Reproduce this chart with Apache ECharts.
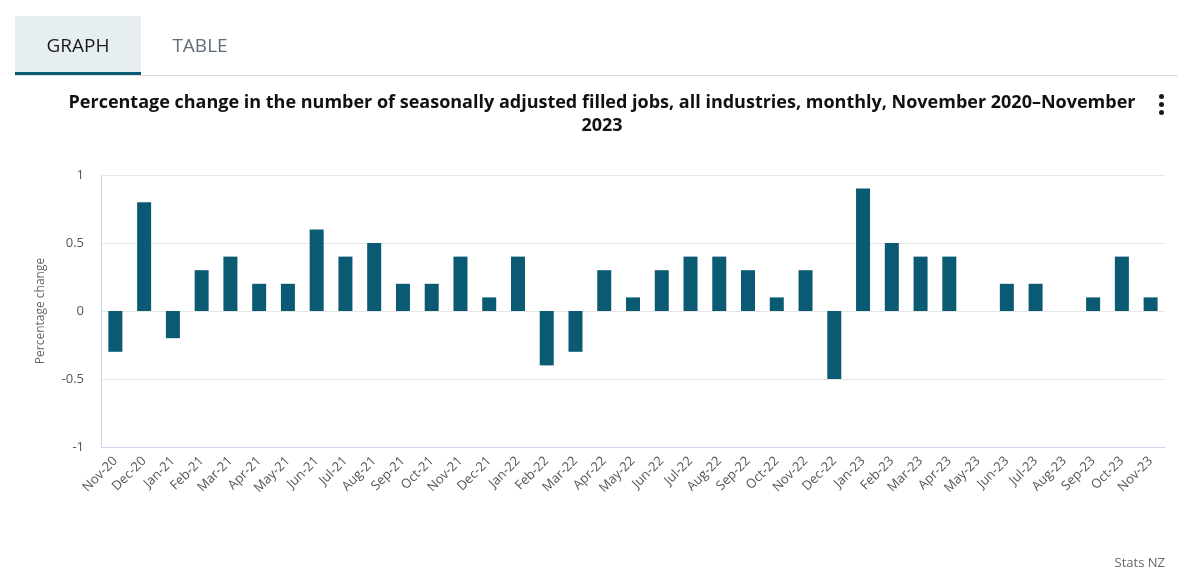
<!DOCTYPE html>
<html>
<head>
<meta charset="utf-8">
<script src="https://cdn.jsdelivr.net/npm/echarts@6/dist/echarts.min.js"></script>
<style>
html,body{margin:0;padding:0;background:#fff;width:1194px;height:581px;overflow:hidden;font-family:"Open Sans",Lato,sans-serif;}
#chart{position:absolute;left:0;top:0;width:1194px;height:581px;}
.tabs{position:absolute;left:15px;top:16px;width:1163px;height:59px;border-bottom:1px solid #dcdcdc;z-index:2;}
.tab{position:absolute;top:0;height:57px;line-height:58px;font-size:19px;text-align:center;}
.tab.active{left:0;width:126px;background:#e6eef1;color:#1a1a1a;border-bottom:3px solid #0b5a73;height:56px;}
.tab.other{left:140px;width:90px;color:#5f6b78;}
.dots{position:absolute;left:1159px;top:94px;width:6px;z-index:2;}
.dots span{display:block;width:5px;height:5px;border-radius:50%;background:#1a1a1a;margin-bottom:3px;}
</style>
</head>
<body>
<div id="chart"></div>
<div class="tabs"><div class="tab active">GRAPH</div><div class="tab other">TABLE</div></div>
<div class="dots"><span></span><span></span><span></span></div>
<script>
var categories = ["Nov-20","Dec-20","Jan-21","Feb-21","Mar-21","Apr-21","May-21","Jun-21","Jul-21","Aug-21","Sep-21","Oct-21","Nov-21","Dec-21","Jan-22","Feb-22","Mar-22","Apr-22","May-22","Jun-22","Jul-22","Aug-22","Sep-22","Oct-22","Nov-22","Dec-22","Jan-23","Feb-23","Mar-23","Apr-23","May-23","Jun-23","Jul-23","Aug-23","Sep-23","Oct-23","Nov-23"];
var values = [-0.3,0.8,-0.2,0.3,0.4,0.2,0.2,0.6,0.4,0.5,0.2,0.2,0.4,0.1,0.4,-0.4,-0.3,0.3,0.1,0.3,0.4,0.4,0.3,0.1,0.3,-0.5,0.9,0.5,0.4,0.4,0,0.2,0.2,0,0.1,0.4,0.1];
var titleText = "Percentage change in the number of seasonally adjusted filled jobs, all industries, monthly, November 2020\u2013November\n2023";
var yAxisTitle = "Percentage change";
var creditText = "Stats NZ";

var chart = echarts.init(document.getElementById('chart'), null, {renderer:'canvas'});
var font = '"Open Sans", Lato, sans-serif';
chart.setOption({
  animation:false,
  textStyle:{fontFamily:font},
  title:{
    text:titleText,
    left:597, top:86, textAlign:'center',
    textStyle:{fontSize:18, fontWeight:'bold', color:'#111', lineHeight:23, fontFamily:font}
  },
  graphic:[{
    type:'text', right:29, top:557,
    style:{text:creditText, fill:'#666', fontSize:13, fontFamily:font}
  }],
  grid:{left:101, right:29, top:175, bottom:134, containLabel:false},
  xAxis:{
    type:'category', data:categories, boundaryGap:true,
    axisLine:{onZero:false, lineStyle:{color:'#ccd6eb', width:1}},
    axisTick:{alignWithLabel:true, length:10, lineStyle:{color:'#ccd6eb'}},
    axisLabel:{rotate:45, color:'#555', fontSize:13, margin:12, interval:0, fontFamily:font}
  },
  yAxis:{
    type:'value', min:-1, max:1, interval:0.5,
    name:yAxisTitle, nameLocation:'middle', nameGap:54, nameRotate:90,
    nameTextStyle:{color:'#666', fontSize:12, fontFamily:font},
    axisLine:{show:true, lineStyle:{color:'#ccd6eb'}},
    axisTick:{show:false},
    axisLabel:{color:'#555', fontSize:13, margin:17, fontFamily:font},
    splitLine:{lineStyle:{color:'#e6e6e6'}}
  },
  series:[{
    type:'bar', data:values, barWidth:14,
    itemStyle:{color:'#0b5a73'}
  }]
});
</script>
</body>
</html>
